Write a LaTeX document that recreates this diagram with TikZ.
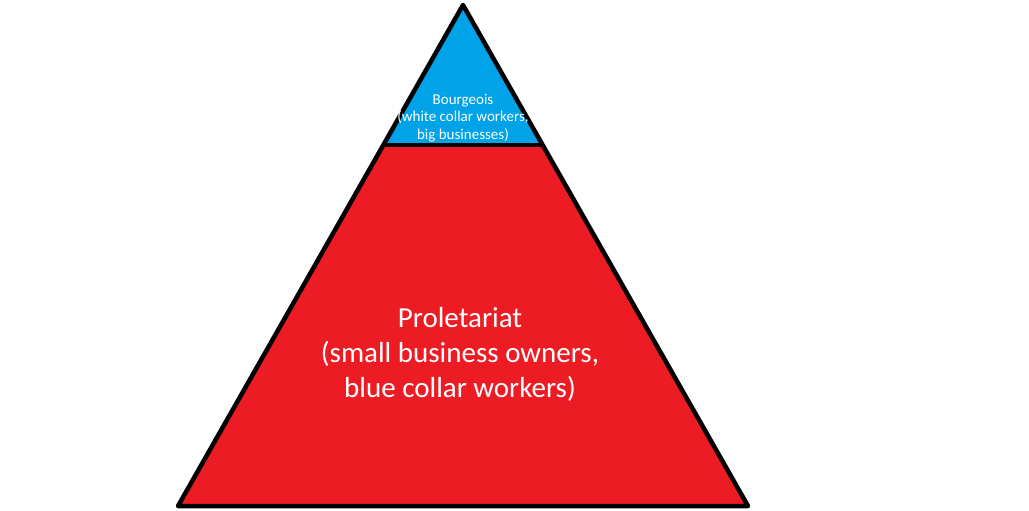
\documentclass[tikz,border=0pt]{standalone}
\usepackage{fontspec}
\setmainfont{Carlito}
\usetikzlibrary{calc}
\definecolor{bourg}{HTML}{00A2E8}
\definecolor{prol}{HTML}{ED1C24}
\begin{document}
\begin{tikzpicture}[x=1pt,y=-1pt,
  edge/.style={line width=4.5pt,line join=round,line cap=round},
  lbl/.style={text=white,align=center,inner sep=0pt}]
\useasboundingbox (0,0) rectangle (1029,511);
\coordinate (apex) at (463,5);
\coordinate (bl) at (178,506);
\coordinate (br) at (748,506);
\coordinate (dl) at ($(apex)!{(145-5)/(506-5)}!(bl)$);
\coordinate (dr) at ($(apex)!{(145-5)/(506-5)}!(br)$);
\fill[prol] (apex) -- (bl) -- (br) -- cycle;
\fill[bourg] (apex) -- (dl) -- (dr) -- cycle;
\draw[edge] (apex) -- (bl) -- (br) -- cycle;
\draw[line width=4pt] (dl) -- (dr);
\node[lbl,font=\fontsize{15}{17.5}\selectfont] (b) at (463,118) {Bourgeois\\(white collar workers,\\big businesses)};
\node[lbl,font=\fontsize{29}{35}\selectfont] (p) at (460,354) {Proletariat\\(small business owners,\\blue collar workers)};
\end{tikzpicture}
\end{document}
